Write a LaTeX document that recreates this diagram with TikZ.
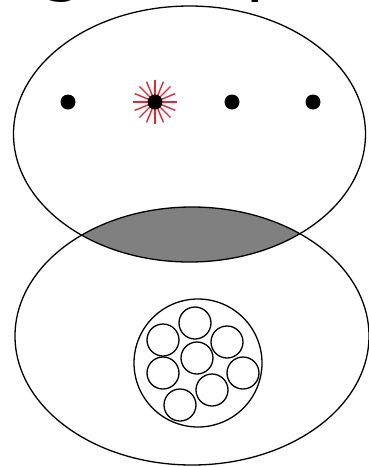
\documentclass[tikz,border=0pt]{standalone}
\usepackage{fontspec}
\newfontfamily\bigsans{DejaVu Sans}

\definecolor{rayred}{RGB}{228,40,52}

\tikzset{
  ring/.style={line width=1.3pt},
  ray/.style={rayred, line width=1.4pt},
  cut/.style={inner sep=0pt, anchor=base west, font=\bigsans\fontsize{72}{72}\selectfont}
}

\begin{document}
\begin{tikzpicture}[x=1pt, y=-1pt]
  \useasboundingbox (0,0) rectangle (369,467);
  \clip (0,0) rectangle (369,467);

  \coordinate (T) at (189.5,134);
  \coordinate (B) at (192,336);

  % shaded overlap
  \begin{scope}
    \clip (T) ellipse [x radius=176, y radius=128];
    \fill[gray] (B) ellipse [x radius=177, y radius=129];
  \end{scope}

  \draw[ring] (T) ellipse [x radius=176, y radius=128];
  \draw[ring] (B) ellipse [x radius=177, y radius=129];

  % cut-off title
  \node[cut] (gl) at (40,-13) {g};
  \node[cut] (pl) at (245.5,-13) {p};

  % points in the upper set
  \foreach \x [count=\i] in {68,155,232,313}
    \coordinate (d\i) at (\x,102);
  \foreach \a in {0,22.5,...,337.5}
    \draw[ray] ([shift={(\a:5)}]d2) -- ([shift={(\a:22)}]d2);
  \foreach \i in {1,...,4}
    \fill (d\i) circle [radius=7.5];

  % cluster in the lower set
  \coordinate (C) at (198,363);
  \draw[ring] (C) circle [radius=64];
  \foreach \x/\y [count=\i] in {195/323, 163/340, 227/342, 197/358,
                                163/373, 243/373, 212/390, 180/405} {
    \coordinate (s\i) at (\x,\y);
    \draw[ring] (s\i) circle [radius=16];
  }
\end{tikzpicture}
\end{document}
